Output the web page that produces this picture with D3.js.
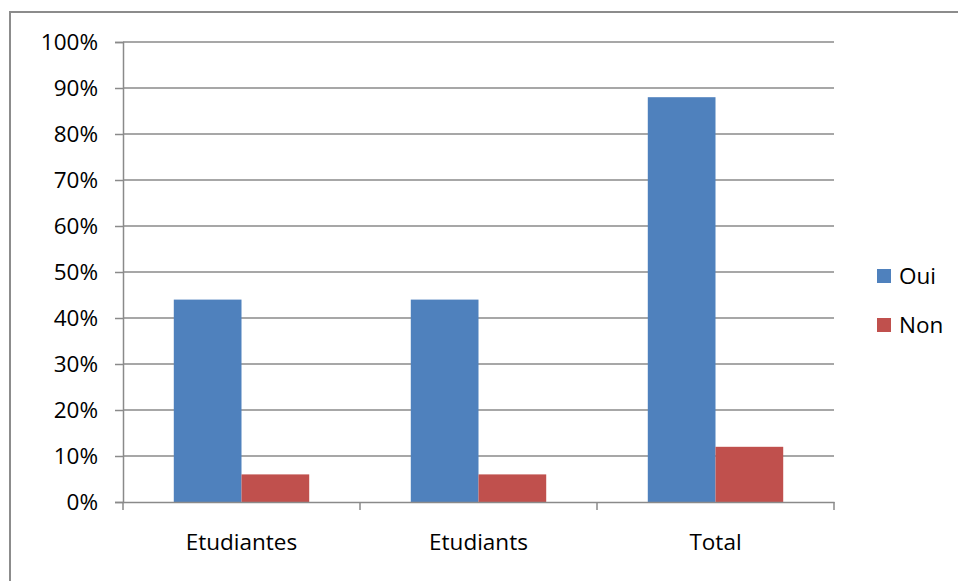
<!DOCTYPE html>
<html>
<head>
<meta charset="utf-8">
<script src="https://cdn.jsdelivr.net/npm/d3@7"></script>
<style>
  body { margin: 0; background: #fff; }
  text { font-family: "Open Sans", "Liberation Sans", sans-serif; fill: #000; }
</style>
</head>
<body>
<svg id="chart" width="958" height="581"></svg>
<script>
'use strict';

const categories = ['Etudiantes', 'Etudiants', 'Total'];
const series = ['Oui', 'Non'];
const ouiValues = [0.44, 0.44, 0.88];
const nonValues = [0.06, 0.06, 0.12];
const yTicks = [0, 0.1, 0.2, 0.3, 0.4, 0.5, 0.6, 0.7, 0.8, 0.9, 1];
const colors = ['#4F81BD', '#C0504D'];

const rows = categories.map((c, i) => ({category: c, values: [ouiValues[i], nonValues[i]]}));

const svg = d3.select('#chart');
const plot = {left: 123, right: 834, top: 42, bottom: 502};
const gridColor = '#8a8a8a';
const fontSize = '22.5px';

// outer frame (runs off the right and bottom edge like the picture)
svg.append('rect')
  .attr('x', 10).attr('y', 12)
  .attr('width', 1000).attr('height', 1000)
  .attr('fill', 'none')
  .attr('stroke', '#8c8c8c')
  .attr('stroke-width', 2);

const x = d3.scaleBand()
  .domain(categories)
  .range([plot.left, plot.right])
  .paddingInner(0)
  .paddingOuter(0);

const xInner = d3.scaleBand()
  .domain(series)
  .range([0, x.bandwidth()])
  .paddingOuter(0.75)
  .paddingInner(0);

const y = d3.scaleLinear()
  .domain([0, 1])
  .range([plot.bottom, plot.top]);

// gridlines
svg.append('g')
  .selectAll('line')
  .data(yTicks.filter(t => t > 0))
  .join('line')
  .attr('x1', plot.left).attr('x2', plot.right)
  .attr('y1', d => y(d)).attr('y2', d => y(d))
  .attr('stroke', gridColor)
  .attr('stroke-width', 1.5);

// bars
svg.append('g')
  .selectAll('g')
  .data(rows)
  .join('g')
  .attr('transform', d => `translate(${x(d.category)},0)`)
  .selectAll('rect')
  .data(d => d.values.map((v, i) => ({key: series[i], value: v, i})))
  .join('rect')
  .attr('x', d => xInner(d.key))
  .attr('y', d => y(d.value))
  .attr('width', xInner.bandwidth())
  .attr('height', d => y(0) - y(d.value))
  .attr('fill', d => colors[d.i]);

// y axis
const yAxis = svg.append('g')
  .attr('transform', `translate(${plot.left},0)`)
  .call(d3.axisLeft(y).tickValues(yTicks).tickFormat(d3.format('.0%')).tickSize(8).tickPadding(17));
yAxis.select('.domain').attr('stroke', gridColor).attr('stroke-width', 1.5);
yAxis.selectAll('.tick line').attr('stroke', gridColor).attr('stroke-width', 1.5);
yAxis.selectAll('.tick text').style('font-size', fontSize).attr('fill', '#000');

// x axis
const xAxis = svg.append('g')
  .attr('transform', `translate(0,${plot.bottom})`)
  .call(d3.axisBottom(x).tickSize(0).tickPadding(32));
xAxis.select('.domain').attr('stroke', gridColor).attr('stroke-width', 1.5);
xAxis.selectAll('.tick text').style('font-size', fontSize).attr('fill', '#000');

// category separators
svg.append('g')
  .selectAll('line')
  .data(d3.range(categories.length + 1))
  .join('line')
  .attr('x1', i => plot.left + i * x.bandwidth())
  .attr('x2', i => plot.left + i * x.bandwidth())
  .attr('y1', plot.bottom)
  .attr('y2', plot.bottom + 8)
  .attr('stroke', gridColor)
  .attr('stroke-width', 1.5);

// legend
const legend = svg.append('g')
  .attr('transform', 'translate(877,269)')
  .selectAll('g')
  .data(series)
  .join('g')
  .attr('transform', (d, i) => `translate(0,${i * 49})`);
legend.append('rect')
  .attr('width', 14).attr('height', 14)
  .attr('fill', (d, i) => colors[i]);
legend.append('text')
  .attr('x', 22).attr('y', 7)
  .attr('dy', '0.35em')
  .style('font-size', fontSize)
  .text(d => d);
</script>
</body>
</html>
